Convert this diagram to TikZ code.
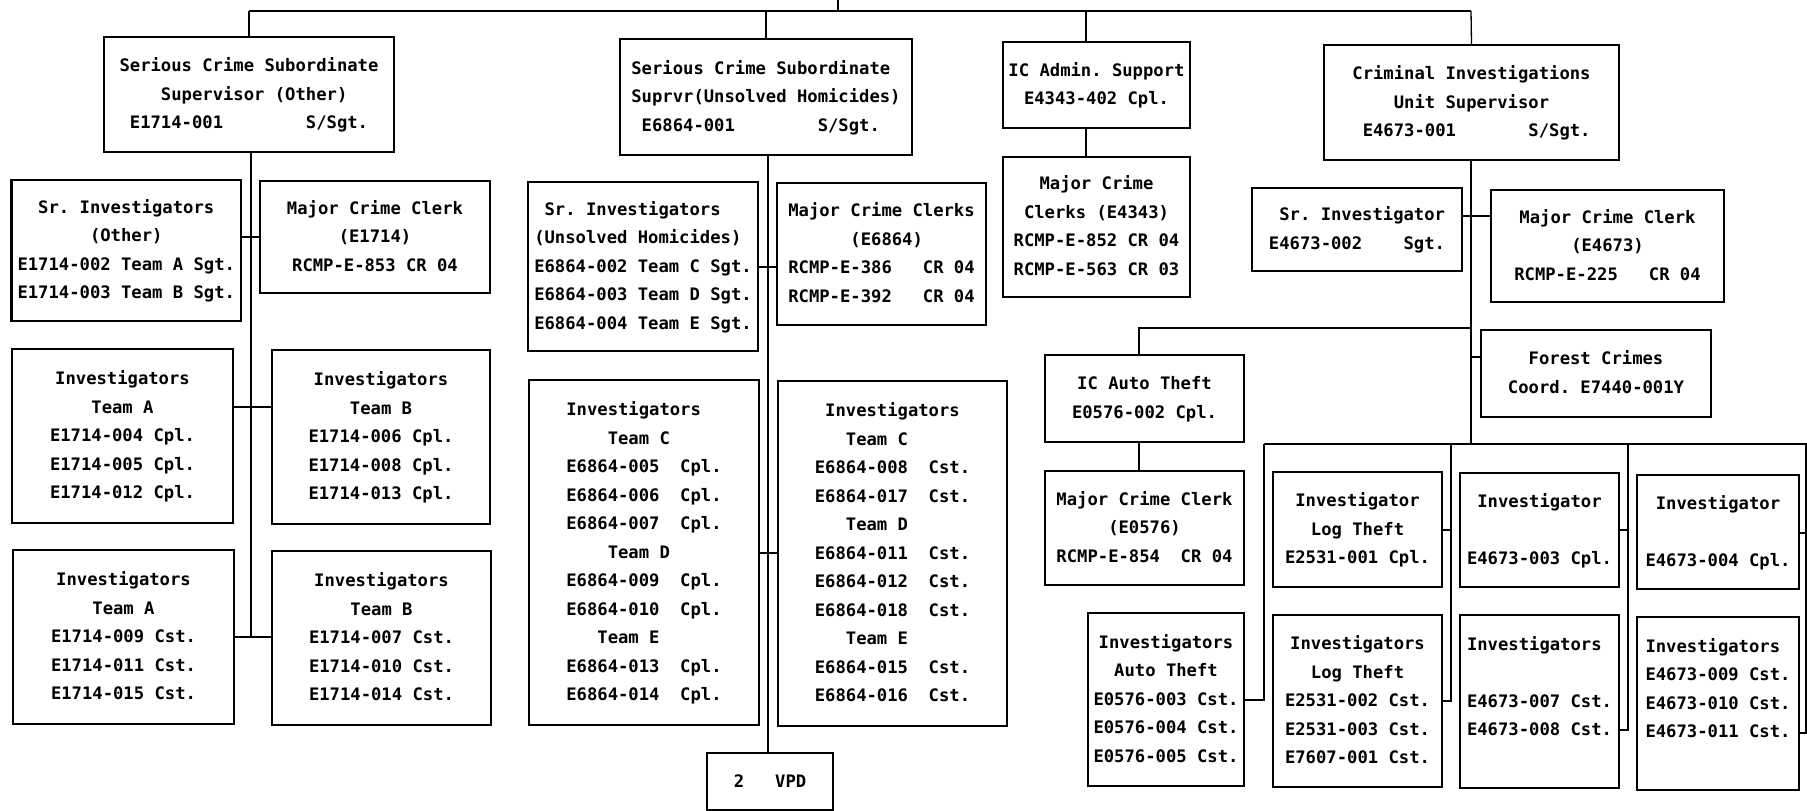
\documentclass[tikz,border=0pt]{standalone}
\usepackage{fontspec}
\setmonofont{DejaVu Sans Mono}
\begin{document}
\begin{tikzpicture}[x=1pt,y=-1pt,
  box/.style={draw, line width=2.4pt, inner sep=0pt, align=center,
    font=\ttfamily\bfseries\fontsize{17.2pt}{28.5pt}\selectfont},
  boxl/.style={box, align=left},
  conn/.style={line width=1.3pt}]
\useasboundingbox (0,0) rectangle (1807,811);

% ---------- boxes ----------
\node[boxl, minimum width=290pt, minimum height=115pt] (b1) at (249,94.5)
  {\strut Serious Crime Subordinate\\\strut ~~~~Supervisor (Other)\\\strut ~E1714-001~~~~~~~~S/Sgt.};
\node[boxl, minimum width=292pt, minimum height=116pt] (b2) at (766,97)
  {\strut Serious Crime Subordinate\\\strut Suprvr(Unsolved Homicides)\\\strut ~E6864-001~~~~~~~~S/Sgt.};
\node[box, minimum width=229.5pt, minimum height=141pt] (b3) at (126.25,250.5)
  {\strut Sr. Investigators\\\strut (Other)\\\strut E1714-002 Team A Sgt.\\\strut E1714-003 Team B Sgt.};
\node[box, minimum width=230pt, minimum height=112pt] (b4) at (375,237)
  {\strut Major Crime Clerk\\\strut (E1714)\\\strut RCMP-E-853 CR 04};
\node[box, minimum width=221pt, minimum height=174pt] (b5) at (122.5,436)
  {\strut Investigators\\\strut Team A\\\strut E1714-004 Cpl.\\\strut E1714-005 Cpl.\\\strut E1714-012 Cpl.};
\node[box, minimum width=218pt, minimum height=174pt] (b6) at (381,437)
  {\strut Investigators\\\strut Team B\\\strut E1714-006 Cpl.\\\strut E1714-008 Cpl.\\\strut E1714-013 Cpl.};
\node[box, minimum width=221pt, minimum height=174pt] (b7) at (123.5,637)
  {\strut Investigators\\\strut Team A\\\strut E1714-009 Cst.\\\strut E1714-011 Cst.\\\strut E1714-015 Cst.};
\node[box, minimum width=219pt, minimum height=174pt] (b8) at (381.5,638)
  {\strut Investigators\\\strut Team B\\\strut E1714-007 Cst.\\\strut E1714-010 Cst.\\\strut E1714-014 Cst.};
\node[boxl, minimum width=230pt, minimum height=169pt] (b9) at (643,266.5)
  {\strut ~Sr. Investigators\\\strut (Unsolved Homicides)\\\strut E6864-002 Team C Sgt.\\\strut E6864-003 Team D Sgt.\\\strut E6864-004 Team E Sgt.};
\node[boxl, minimum width=209pt, minimum height=142pt] (b10) at (881.5,254)
  {\strut Major Crime Clerks\\\strut ~~~~~~(E6864)\\\strut RCMP-E-386~~~CR 04\\\strut RCMP-E-392~~~CR 04};
\node[box, minimum width=187pt, minimum height=86pt] (b11) at (1096.5,85)
  {\strut IC Admin. Support\\\strut E4343-402 Cpl.};
\node[box, minimum width=187pt, minimum height=140pt] (b12) at (1096.5,227)
  {\strut Major Crime\\\strut Clerks (E4343)\\\strut RCMP-E-852 CR 04\\\strut RCMP-E-563 CR 03};
\node[boxl, minimum width=230pt, minimum height=345pt] (b13) at (644,552.5)
  {\strut Investigators\\\strut ~~~~Team C\\\strut E6864-005~~Cpl.\\\strut E6864-006~~Cpl.\\\strut E6864-007~~Cpl.\\\strut ~~~~Team D\\\strut E6864-009~~Cpl.\\\strut E6864-010~~Cpl.\\\strut ~~~Team E\\\strut E6864-013~~Cpl.\\\strut E6864-014~~Cpl.};
\node[boxl, minimum width=229pt, minimum height=345pt] (b14) at (892.5,553.5)
  {\strut ~Investigators\\\strut ~~~Team C\\\strut E6864-008~~Cst.\\\strut E6864-017~~Cst.\\\strut ~~~Team D\\\strut E6864-011~~Cst.\\\strut E6864-012~~Cst.\\\strut E6864-018~~Cst.\\\strut ~~~Team E\\\strut E6864-015~~Cst.\\\strut E6864-016~~Cst.};
\node[box, minimum width=126pt, minimum height=57pt] (b15) at (770,781.5)
  {\strut 2~~~VPD};
\node[boxl, minimum width=295pt, minimum height=115pt] (b16) at (1471.5,102.5)
  {\strut Criminal Investigations\\\strut ~~~~Unit Supervisor\\\strut ~E4673-001~~~~~~~S/Sgt.};
\node[boxl, minimum width=210pt, minimum height=83pt] (b17) at (1357,229.5)
  {\strut ~Sr. Investigator\\\strut E4673-002~~~~Sgt.};
\node[box, minimum width=233pt, minimum height=112pt] (b18) at (1607.5,246)
  {\strut Major Crime Clerk\\\strut (E4673)\\\strut RCMP-E-225~~~CR 04};
\node[box, minimum width=199pt, minimum height=87pt] (b19) at (1144.5,398.5)
  {\strut IC Auto Theft\\\strut E0576-002 Cpl.};
\node[box, minimum width=230pt, minimum height=87pt] (b20) at (1596,373.5)
  {\strut Forest Crimes\\\strut Coord. E7440-001Y};
\node[box, minimum width=199pt, minimum height=114pt] (b21) at (1144.5,528)
  {\strut Major Crime Clerk\\\strut (E0576)\\\strut RCMP-E-854~~CR 04};
\node[box, minimum width=169pt, minimum height=115pt] (b22) at (1357.5,529.5)
  {\strut Investigator\\\strut Log Theft\\\strut E2531-001 Cpl.};
\node[box, minimum width=159pt, minimum height=114pt] (b23) at (1539.5,530)
  {\strut Investigator\\\strut ~\\\strut E4673-003 Cpl.};
\node[box, minimum width=162pt, minimum height=114pt] (b24) at (1718,532)
  {\strut Investigator\\\strut ~\\\strut E4673-004 Cpl.};
\node[box, minimum width=156pt, minimum height=173pt] (b25) at (1166,699.5)
  {\strut Investigators\\\strut Auto Theft\\\strut E0576-003 Cst.\\\strut E0576-004 Cst.\\\strut E0576-005 Cst.};
\node[box, minimum width=169pt, minimum height=172pt] (b26) at (1357.5,701)
  {\strut Investigators\\\strut Log Theft\\\strut E2531-002 Cst.\\\strut E2531-003 Cst.\\\strut E7607-001 Cst.};
\node[boxl, minimum width=159pt, minimum height=173pt] (b27) at (1539.5,701.5)
  {\strut Investigators\\\strut ~\\\strut E4673-007 Cst.\\\strut E4673-008 Cst.\\\strut ~};
\node[boxl, minimum width=162pt, minimum height=173pt] (b28) at (1718,703.5)
  {\strut Investigators\\\strut E4673-009 Cst.\\\strut E4673-010 Cst.\\\strut E4673-011 Cst.\\\strut ~};

% ---------- top level ----------
\coordinate (rt) at (838,0);
\coordinate (rb) at (838,11);
\coordinate (tl) at (249,11);
\coordinate (tr) at (1471,11);
\coordinate (ta) at (1086,11);
\draw[conn] (rt) -- (rb);
\draw[conn] (tl) -- (tr);
\draw[conn] (tl) -- (b1.north);
\draw[conn] (b2.north |- tl) -- (b2.north);
\draw[conn] (ta) -- (ta |- b11.north);
\draw[conn] (tr) -- (b16.north);

% ---------- left branch ----------
\coordinate (la) at (251,637);
\coordinate (l5) at (251,407);
\draw[conn] (b1.south -| la) -- (la);
\draw[conn] (b3.east |- b4.west) -- (b4.west);
\draw[conn] (b5.east |- l5) -- (b6.west |- l5);
\draw[conn] (b7.east |- la) -- (b8.west |- la);

% ---------- middle branch ----------
\coordinate (mv) at (768,267);
\coordinate (mw) at (768,553);
\draw[conn] (b2.south -| mv) -- (b15.north -| mv);
\draw[conn] (b9.east |- mv) -- (b10.west |- mv);
\draw[conn] (b13.east |- mw) -- (b14.west |- mw);

% ---------- IC admin ----------
\draw[conn] (b11.south -| ta) -- (b12.north -| ta);

% ---------- criminal investigations ----------
\coordinate (cb) at (1471,444);
\coordinate (cs) at (1471,216);
\coordinate (ch) at (1471,328);
\coordinate (ca) at (1139,328);
\coordinate (cf) at (1471,357);
\draw[conn] (b16.south -| cb) -- (cb);
\draw[conn] (b17.east |- cs) -- (b18.west |- cs);
\draw[conn] (ch) -- (ca) -- (ca |- b19.north);
\draw[conn] (cf) -- (b20.west |- cf);
\draw[conn] (b19.south -| ca) -- (b21.north -| ca);

\coordinate (bl) at (1264,444);
\coordinate (br) at (1807,444);
\draw[conn] (bl) -- (br);
\coordinate (v1) at (1264,700);
\draw[conn] (bl) -- (v1) -- (b25.east |- v1);

\coordinate (v2t) at (1451,444);
\coordinate (v2m) at (1451,530);
\coordinate (v2) at (1451,701);
\draw[conn] (v2t) -- (v2) -- (b26.east |- v2);
\draw[conn] (v2m) -- (b22.east |- v2m);

\coordinate (v3t) at (1628,444);
\coordinate (v3m) at (1628,530);
\coordinate (v3) at (1628,730);
\draw[conn] (v3t) -- (v3) -- (b27.east |- v3);
\draw[conn] (v3m) -- (b23.east |- v3m);

\coordinate (v4t) at (1806,444);
\coordinate (v4m) at (1806,533);
\coordinate (v4) at (1806,733);
\draw[conn] (v4t) -- (v4) -- (b28.east |- v4);
\draw[conn] (v4m) -- (b24.east |- v4m);
\end{tikzpicture}
\end{document}
